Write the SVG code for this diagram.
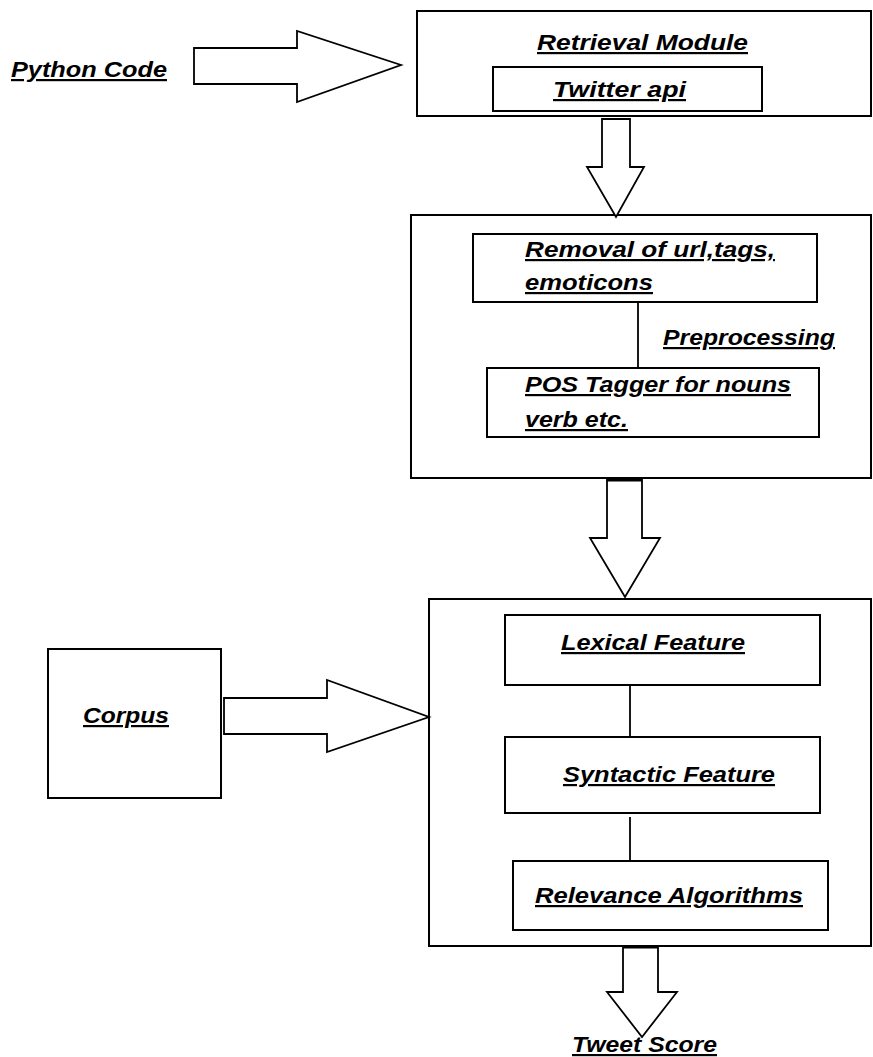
<svg xmlns="http://www.w3.org/2000/svg" width="873" height="1057" viewBox="0 0 873 1057">
<style>
.box{fill:#fff;stroke:#000;stroke-width:2}
.arrow{fill:#fff;stroke:#000;stroke-width:1.8;stroke-linejoin:miter}
.link{stroke:#000;stroke-width:1.8;fill:none}
.t{font-family:"Liberation Sans",Arial,sans-serif;font-weight:bold;font-style:italic;font-size:22px;fill:#000;text-decoration:underline}
</style>
<rect width="873" height="1057" fill="#fff"/>
<g id="python-code">
<text class="t" x="11" y="77" textLength="156" lengthAdjust="spacingAndGlyphs">Python Code</text>
</g>
<g id="retrieval-module">
<rect class="box" x="417" y="11" width="454" height="105"/>
<text class="t" x="537" y="50" textLength="211" lengthAdjust="spacingAndGlyphs">Retrieval Module</text>
<rect class="box" x="493" y="67" width="269" height="44"/>
<text class="t" x="553" y="97" textLength="133" lengthAdjust="spacingAndGlyphs">Twitter api</text>
</g>
<g id="preprocessing">
<rect class="box" x="411" y="215" width="460" height="263"/>
<rect class="box" x="473" y="234" width="344" height="68"/>
<text class="t" x="525" y="257" textLength="250" lengthAdjust="spacingAndGlyphs">Removal of url,tags,</text>
<text class="t" x="525" y="290" textLength="128" lengthAdjust="spacingAndGlyphs">emoticons</text>
<text class="t" x="663" y="345" textLength="172" lengthAdjust="spacingAndGlyphs">Preprocessing</text>
<rect class="box" x="487" y="368" width="332" height="69"/>
<text class="t" x="525" y="392" textLength="266" lengthAdjust="spacingAndGlyphs">POS Tagger for nouns</text>
<text class="t" x="525" y="427" textLength="103" lengthAdjust="spacingAndGlyphs">verb etc.</text>
</g>
<g id="features">
<rect class="box" x="429" y="599" width="442" height="347"/>
<rect class="box" x="505" y="615" width="315" height="70"/>
<text class="t" x="561" y="650" textLength="184" lengthAdjust="spacingAndGlyphs">Lexical Feature</text>
<rect class="box" x="505" y="737" width="315" height="76"/>
<text class="t" x="563" y="782" textLength="212" lengthAdjust="spacingAndGlyphs">Syntactic Feature</text>
<rect class="box" x="513" y="861" width="315" height="69"/>
<text class="t" x="535" y="903" textLength="268" lengthAdjust="spacingAndGlyphs">Relevance Algorithms</text>
</g>
<g id="corpus">
<rect class="box" x="48" y="649" width="173" height="149"/>
<text class="t" x="83" y="723" textLength="86" lengthAdjust="spacingAndGlyphs">Corpus</text>
</g>
<g id="tweet-score">
<text class="t" x="572" y="1052" textLength="145" lengthAdjust="spacingAndGlyphs">Tweet Score</text>
</g>
<g id="connectors">
<polygon class="arrow" points="194,48 297,48 297,31 401,65 297,102 297,84 194,84"/>
<polygon class="arrow" points="602,119 630,119 630,167 644,167 616,217 587,167 602,167"/>
<polygon class="arrow" points="607,479 642,479 642,538 660,538 625,597 590,538 607,538"/>
<line class="link" x1="607" y1="480.5" x2="642" y2="480.5" stroke-width="3"/>
<polygon class="arrow" points="224,698 327,698 327,680 429,717 327,752 327,734 224,734"/>
<polygon class="arrow" points="623,946 658,946 658,992 677,992 642,1037 607,992 623,992"/>
<line class="link" x1="623" y1="947.5" x2="658" y2="947.5" stroke-width="3"/>
<line class="link" x1="638" y1="302" x2="638" y2="368"/>
<line class="link" x1="630" y1="685" x2="630" y2="737"/>
<line class="link" x1="630" y1="817" x2="630" y2="861"/>
</g>
</svg>
